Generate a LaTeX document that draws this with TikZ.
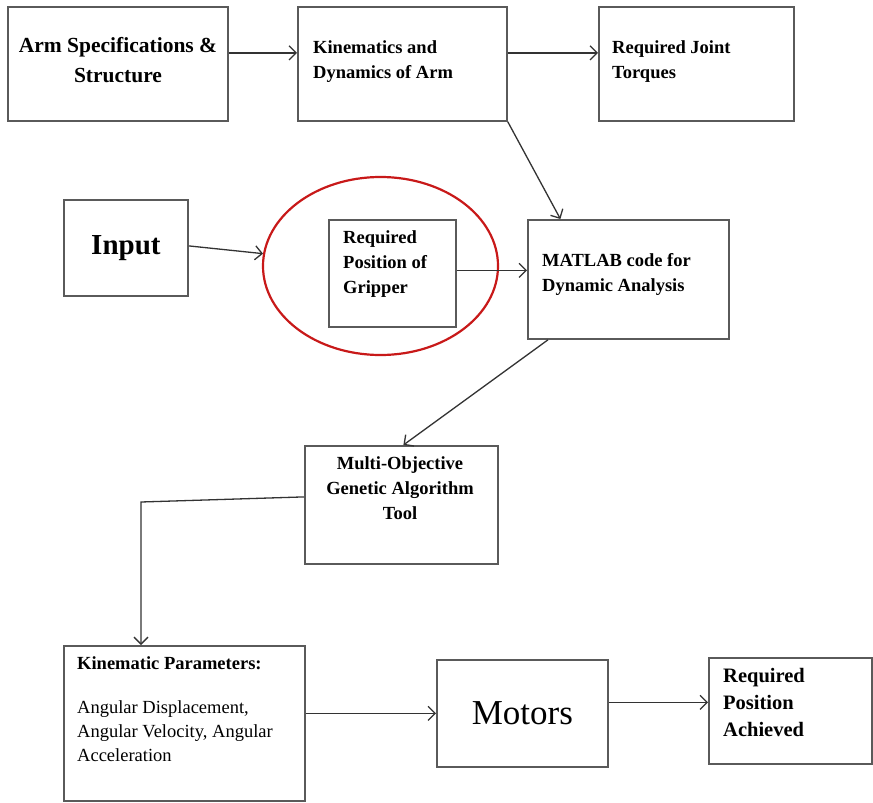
\documentclass[tikz,border=0pt]{standalone}
\usepackage{fontspec}
\setmainfont{Liberation Serif}
\usetikzlibrary{arrows.meta,shapes.geometric}
\definecolor{edgegray}{RGB}{90,90,90}
\definecolor{ringred}{RGB}{200,25,25}
\tikzset{
  box/.style={draw=edgegray, line width=1.8pt, inner sep=0pt, anchor=north west},
  lbl/.style={inner sep=0pt, anchor=north west, align=left, font=\fontsize{18.5}{25}\selectfont\bfseries},
  arr/.style={draw=black!80, line width=1.3pt, -{Straight Barb[length=7pt,width=14pt,line width=1.3pt]}},
}
\begin{document}
\begin{tikzpicture}[x=1pt,y=-1pt]
\useasboundingbox[fill=white] (0,0) rectangle (873,803);
% boxes
\node[box, minimum width=220pt, minimum height=114pt] (b1) at (7,6) {};
\node[box, minimum width=209pt, minimum height=114pt] (b2) at (297,6) {};
\node[box, minimum width=195pt, minimum height=114pt] (b3) at (598,6) {};
\node[box, minimum width=124pt, minimum height=96pt, font=\fontsize{29}{30}\selectfont\bfseries] (inp) at (63,199) {Input};
\node[box, minimum width=127pt, minimum height=107pt] (grip) at (328,219) {};
\node[box, minimum width=201pt, minimum height=119pt] (mat) at (527,219) {};
\node[box, minimum width=193pt, minimum height=118pt] (multi) at (304,445) {};
\node[box, minimum width=241pt, minimum height=155pt] (kin) at (63,645) {};
\node[box, minimum width=171pt, minimum height=107pt, font=\fontsize{35}{36}\selectfont] (mot) at (436,659) {Motors};
\node[box, minimum width=163pt, minimum height=106pt] (ach) at (708,657) {};
\node[draw=ringred, line width=2.2pt, ellipse, minimum width=235pt, minimum height=178pt, inner sep=0pt] (ell) at (380.5,266) {};
% texts
\node[inner sep=0pt, align=center, font=\fontsize{21.5}{30}\selectfont\bfseries] (t1) at (118,60) {Arm Specifications \&\\Structure};
\node[lbl] (t2) at (313,40) {Kinematics and\\Dynamics of Arm};
\node[lbl] (t3) at (612,40) {Required Joint\\Torques};
\node[lbl] (tg) at (343,230) {Required\\Position of\\Gripper};
\node[lbl] (tm) at (542,253) {MATLAB code for\\Dynamic Analysis};
\node[lbl, anchor=north, align=center] (tmo) at (400,456) {Multi-Objective\\Genetic Algorithm\\Tool};
\node[inner sep=0pt, anchor=north west, align=left, font=\fontsize{18.5}{24}\selectfont] (tk) at (77,656) {\textbf{Kinematic Parameters:}\\[20pt]Angular Displacement,\\Angular Velocity, Angular\\Acceleration};
\node[inner sep=0pt, anchor=north west, align=left, font=\fontsize{20.5}{27}\selectfont\bfseries] (ta) at (723,668) {Required\\Position\\Achieved};
% connectors
\draw[arr] ([yshift=11pt]b1.east) -- ([yshift=11pt]b2.west);
\draw[arr] ([yshift=11pt]b2.east) -- ([yshift=11pt]b3.west);
\draw[arr] (b2.south east) -- ([xshift=-68pt]mat.north);
\draw[arr] ([yshift=2pt]inp.east) -- (ell.174);
\draw[arr] ([yshift=3pt]grip.east) -- ([yshift=3pt]grip.east -| mat.west);
\draw[arr] ([xshift=21pt]mat.south west) -- ([xshift=2pt]multi.north);
\coordinate (bend) at (141,502);
\draw[arr] ([yshift=8pt]multi.west) -- (bend) -- (bend |- kin.north);
\draw[arr] (kin.east |- mot.west) -- (mot.west);
\draw[arr] ([yshift=11pt]mot.east) -- ([yshift=11pt]mot.east -| ach.west);
\end{tikzpicture}
\end{document}
